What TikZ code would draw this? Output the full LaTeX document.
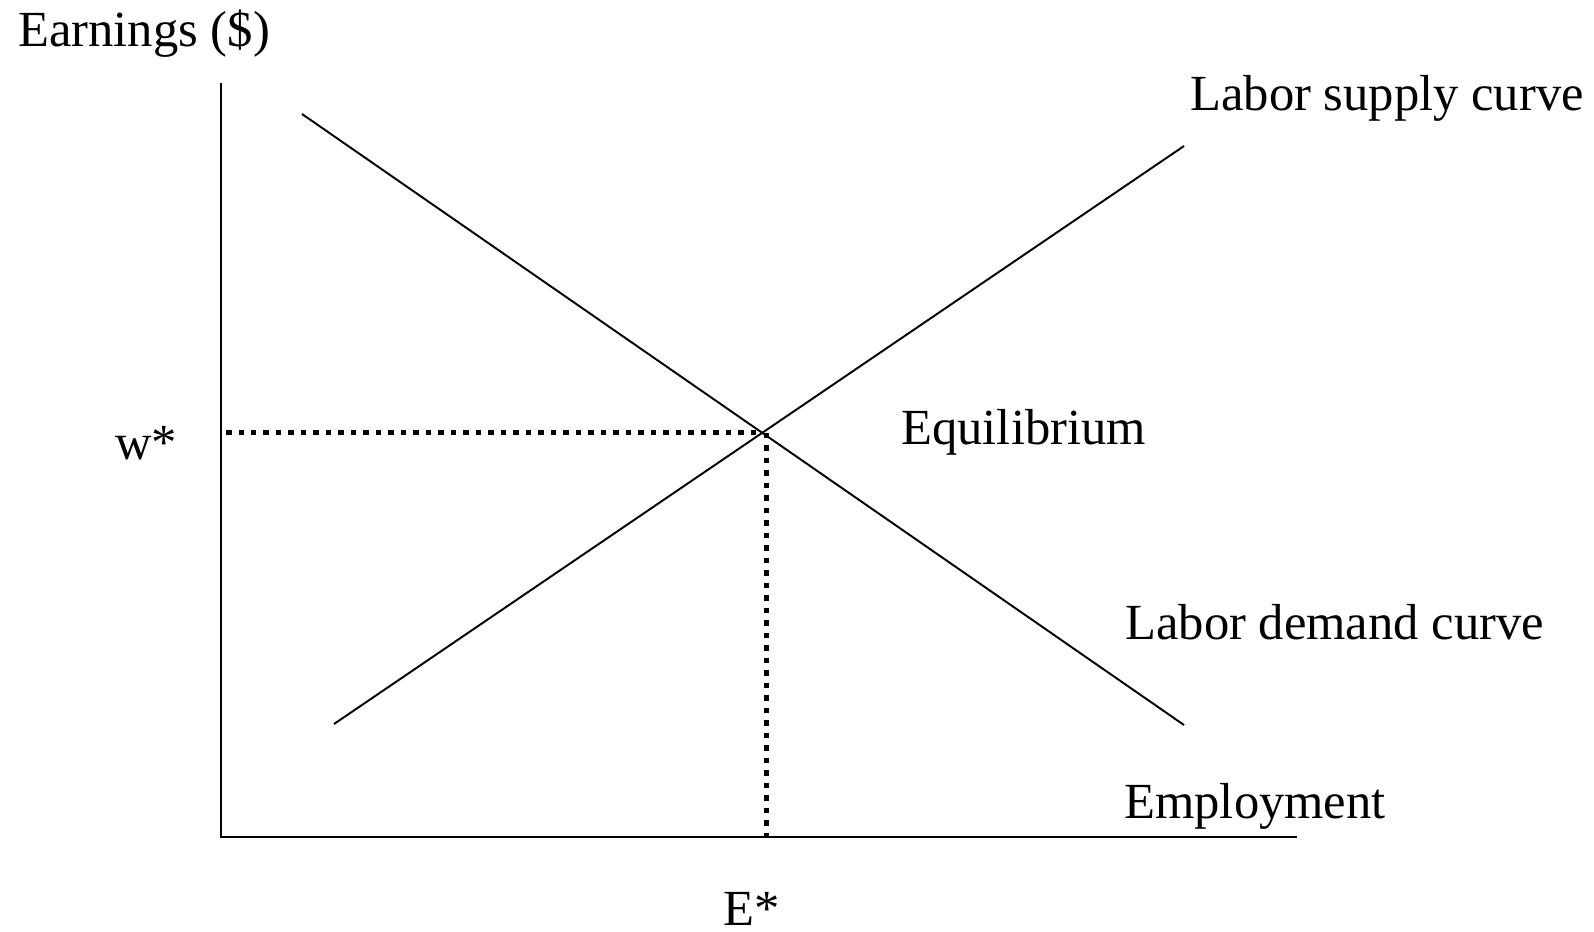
\documentclass[tikz,border=0pt]{standalone}
\usepackage{fontspec}
\setmainfont{Liberation Serif}
\usetikzlibrary{positioning,calc,intersections}

\begin{document}
\begin{tikzpicture}[x=0.02cm,y=-0.02cm,
  lbl/.style={anchor=base west, inner sep=0pt, font=\fontsize{28.8}{34}\selectfont},
  curve/.style={line width=1.1pt},
  guide/.style={line width=2.7pt, dash pattern=on 0.11cm off 0.14cm}]
\useasboundingbox (0,0) rectangle (1594,931);
% axes
\coordinate (o) at (221,837);
\coordinate (ytop) at (221,83);
\coordinate (xend) at (1297,837);
\draw[curve] (ytop) -- (o) -- (xend);
% curves
\coordinate (s0) at (334,724);
\coordinate (s1) at (1184,146);
\coordinate (d0) at (302,114);
\coordinate (d1) at (1184,725);
\draw[curve, name path=supply] (s0) -- (s1);
\draw[curve, name path=demand] (d0) -- (d1);
\path[name intersections={of=supply and demand, by=eq}];
% guides to the axes
\coordinate (wy) at (226,0 |- eq);
\coordinate (ev) at ($(eq)+(4,0)$);
\coordinate (ex) at (ev |- o);
\draw[guide] (wy) -- (eq);
\draw[guide] (ev) -- (ex);
% labels
\node[lbl] (earn) at (18,46) {Earnings (\$)};
\node[lbl] (suplab) at (1190,110) {Labor supply curve};
\node[lbl] (wstar) at (115,459) {w*};
\node[lbl] (eqlab) at (901,444) {Equilibrium};
\node[lbl] (demlab) at (1125,639) {Labor demand curve};
\node[lbl] (emplab) at (1124,818) {Employment};
\node[lbl] (estar) at (723,925) {E*};
\end{tikzpicture}
\end{document}
